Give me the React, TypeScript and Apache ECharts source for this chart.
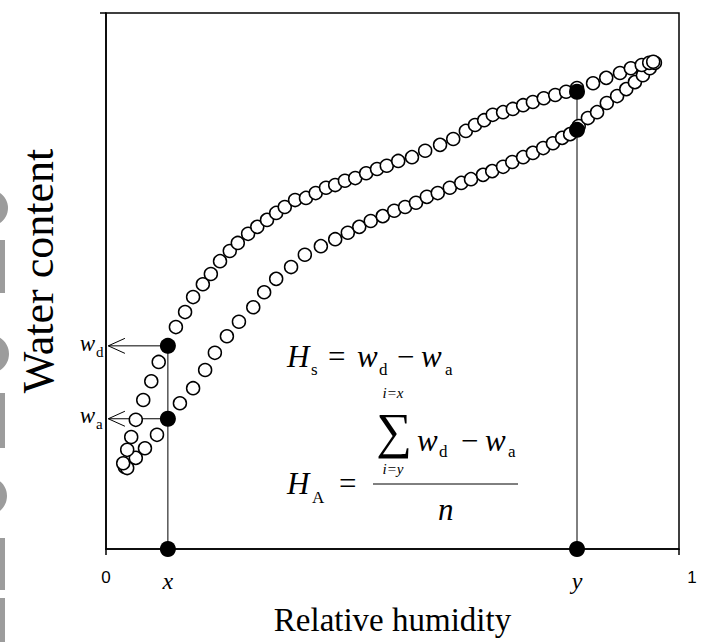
import React, { useEffect, useRef } from "react";
import * as echarts from "echarts";

// Desorption branch (upper curve), relative humidity vs water content
const desorptionRH = [0.030,0.037,0.044,0.052,0.065,0.079,0.092,0.108,0.122,0.138,0.152,0.169,0.183,0.199,0.216,0.230,0.248,0.264,0.281,0.297,0.312,0.330,0.349,0.366,0.384,0.400,0.417,0.435,0.454,0.473,0.490,0.510,0.534,0.557,0.583,0.606,0.628,0.644,0.660,0.675,0.693,0.710,0.728,0.745,0.764,0.784,0.803,0.822,0.850,0.873,0.897,0.916,0.935,0.948,0.955];
const desorptionW = [0.160,0.185,0.209,0.241,0.278,0.313,0.349,0.379,0.414,0.442,0.470,0.494,0.513,0.537,0.556,0.571,0.588,0.601,0.614,0.627,0.638,0.651,0.655,0.664,0.674,0.679,0.687,0.692,0.701,0.709,0.715,0.724,0.731,0.743,0.754,0.765,0.780,0.791,0.800,0.810,0.815,0.821,0.828,0.834,0.841,0.847,0.853,0.860,0.869,0.879,0.888,0.897,0.903,0.907,0.909];

// Adsorption branch (lower curve)
const adsorptionRH = [0.033,0.037,0.052,0.068,0.089,0.108,0.129,0.152,0.173,0.190,0.211,0.232,0.257,0.276,0.297,0.323,0.347,0.375,0.400,0.422,0.442,0.462,0.483,0.503,0.522,0.541,0.560,0.579,0.600,0.620,0.637,0.658,0.674,0.693,0.709,0.728,0.745,0.763,0.780,0.796,0.810,0.825,0.841,0.857,0.874,0.892,0.908,0.923,0.937,0.949,0.958];
const adsorptionW = [0.153,0.151,0.170,0.188,0.213,0.243,0.272,0.300,0.334,0.366,0.397,0.424,0.451,0.479,0.504,0.526,0.549,0.565,0.578,0.590,0.601,0.612,0.621,0.631,0.638,0.646,0.657,0.664,0.674,0.683,0.690,0.698,0.705,0.713,0.722,0.731,0.739,0.748,0.757,0.767,0.774,0.789,0.804,0.815,0.832,0.845,0.858,0.871,0.884,0.897,0.907];

// Marked humidities x and y, with the water contents on each branch
const markedRH = [0.108, 0.822];
const wdAtMarks = [0.379, 0.853];
const waAtMarks = [0.243, 0.782];

// Bottom tick labels
const xTickValues = [0, 0.108, 0.822, 1];
const xTickLabels = ["0", "x", "y", "1"];

// Arrow geometry (data units)
const arrowTipRH = 0.004;
const arrowHeadDx = 0.029;
const arrowHeadDy = 0.014;

const SERIF = "'Liberation Serif', 'Times New Roman', serif";
const SANS = "'Liberation Sans', Arial, sans-serif";

function txt(text: string, x: number, y: number, size: number, italic: boolean, align = "left", extra: any = {}) {
  return {
    type: "text",
    x,
    y,
    silent: true,
    ...extra,
    style: {
      text,
      fontFamily: SERIF,
      fontSize: size,
      fontStyle: italic ? "italic" : "normal",
      fill: "#000",
      align,
      verticalAlign: "middle",
    },
  };
}

export default function App() {
  const ref = useRef<HTMLDivElement>(null);

  useEffect(() => {
    if (!ref.current) return;
    const chart = echarts.init(ref.current, undefined, { renderer: "svg" });

    const openStyle = { color: "#fff", borderColor: "#000", borderWidth: 1.5, opacity: 1 };
    const thin = { color: "#000", width: 1 };

    const arrowSeries = (w: number) => [
      {
        type: "line",
        data: [[markedRH[0], w], [arrowTipRH, w]],
        symbol: "none",
        lineStyle: thin,
        silent: true,
        z: 1,
      },
      {
        type: "line",
        data: [
          [arrowTipRH + arrowHeadDx, w + arrowHeadDy],
          [arrowTipRH, w],
          [arrowTipRH + arrowHeadDx, w - arrowHeadDy],
        ],
        symbol: "none",
        lineStyle: thin,
        silent: true,
        z: 1,
      },
    ];

    const M = 31; // main formula font size
    const S = 17; // subscript size

    const option: any = {
      animation: false,
      backgroundColor: "#fff",
      grid: {
        left: 106,
        right: 22,
        top: 13,
        bottom: 93,
        show: true,
        borderColor: "#000",
        borderWidth: 1.5,
        containLabel: false,
        outerBoundsMode: "none",
      },
      xAxis: {
        type: "value",
        min: 0,
        max: 1,
        interval: 1,
        splitLine: { show: false },
        axisLine: { show: true, lineStyle: { color: "#000", width: 1.5 } },
        axisTick: {
          show: true,
          inside: false,
          length: 6,
          customValues: [0, 1],
          lineStyle: { color: "#000", width: 1.5 },
        },
        axisLabel: {
          show: true,
          customValues: xTickValues,
          margin: 20,
          formatter: (v: number) => {
            const i = xTickValues.findIndex((t) => Math.abs(t - v) < 1e-6);
            const lab = i >= 0 ? xTickLabels[i] : "";
            if (lab === "x" || lab === "y") return "{it|" + lab + "}";
            if (lab === "1") return "{one|" + lab + "}";
            return "{num|" + lab + "}";
          },
          rich: {
            num: { fontFamily: SANS, fontSize: 17, color: "#000" },
            one: { fontFamily: SANS, fontSize: 17, color: "#000", padding: [0, 0, 0, 26] },
            it: { fontFamily: SERIF, fontStyle: "italic", fontSize: 24, color: "#000" },
          },
        },
        name: "Relative humidity",
        nameLocation: "middle",
        nameGap: 54,
        nameTextStyle: { fontFamily: SERIF, fontSize: 33, color: "#000" },
      },
      yAxis: {
        type: "value",
        min: 0,
        max: 1,
        interval: 1,
        splitLine: { show: false },
        axisLine: { show: true, lineStyle: { color: "#000", width: 1.5 } },
        axisTick: {
          show: true,
          inside: false,
          length: 6,
          customValues: [1],
          lineStyle: { color: "#000", width: 1.5 },
        },
        axisLabel: { show: false },
      },
      series: [
        {
          type: "line",
          data: [[markedRH[0], 0], [markedRH[0], wdAtMarks[0]]],
          symbol: "none",
          lineStyle: thin,
          silent: true,
          z: 1,
        },
        {
          type: "line",
          data: [[markedRH[1], 0], [markedRH[1], wdAtMarks[1]]],
          symbol: "none",
          lineStyle: thin,
          silent: true,
          z: 1,
        },
        ...arrowSeries(wdAtMarks[0]),
        ...arrowSeries(waAtMarks[0]),
        {
          type: "scatter",
          data: adsorptionRH.map((x, i) => [x, adsorptionW[i]]),
          symbol: "circle",
          symbolSize: 13,
          itemStyle: openStyle,
          silent: true,
          z: 2,
        },
        {
          type: "scatter",
          data: desorptionRH.map((x, i) => [x, desorptionW[i]]),
          symbol: "circle",
          symbolSize: 13,
          itemStyle: openStyle,
          silent: true,
          z: 2,
        },
        {
          type: "scatter",
          data: [
            [markedRH[0], 0],
            [markedRH[0], wdAtMarks[0]],
            [markedRH[0], waAtMarks[0]],
            [markedRH[1], 0],
            [markedRH[1], wdAtMarks[1]],
            [markedRH[1], waAtMarks[1]],
          ],
          symbol: "circle",
          symbolSize: 16,
          itemStyle: { color: "#000", opacity: 1 },
          silent: true,
          z: 3,
        },
      ],
      graphic: [
        // cropped grey marks at the left edge
        { type: "circle", shape: { cx: -10, cy: 208, r: 18 }, style: { fill: "#9c9c9c" }, silent: true },
        { type: "rect", shape: { x: 0, y: 240, width: 5, height: 53 }, style: { fill: "#9c9c9c" }, silent: true },
        { type: "circle", shape: { cx: -10, cy: 354, r: 19 }, style: { fill: "#9c9c9c" }, silent: true },
        { type: "rect", shape: { x: 0, y: 393, width: 5, height: 55 }, style: { fill: "#9c9c9c" }, silent: true },
        { type: "circle", shape: { cx: -12, cy: 496, r: 19 }, style: { fill: "#9c9c9c" }, silent: true },
        { type: "rect", shape: { x: 0, y: 538, width: 5, height: 52 }, style: { fill: "#9c9c9c" }, silent: true },
        { type: "rect", shape: { x: 0, y: 598, width: 5, height: 44 }, style: { fill: "#9c9c9c" }, silent: true },
        // y axis title
        txt("Water content", 38, 271, 44, false, "center", { rotation: Math.PI / 2 }),
        // w_d, w_a labels
        txt("w", 95, 343, 23, true, "right"),
        txt("d", 96, 352, 15, false),
        txt("w", 95, 415, 23, true, "right"),
        txt("a", 96, 424, 15, false),
        // H_s = w_d - w_a
        txt("H", 287, 356, M, true),
        txt("s", 311, 369, S, false),
        txt("=", 328, 356, M, false),
        txt("w", 357, 356, M, true),
        txt("d", 379, 369, S, false),
        txt("\u2212", 397, 356, M, false),
        txt("w", 421, 356, M, true),
        txt("a", 445, 369, S, false),
        // H_A = sum / n
        txt("i=x", 393, 393, 15, true, "center"),
        txt("\u2211", 394, 431, 50, false, "center"),
        txt("i=y", 393, 469, 15, true, "center"),
        txt("w", 417, 440, M, true),
        txt("d", 439, 451, S, false),
        txt("\u2212", 461, 440, M, false),
        txt("w", 485, 440, M, true),
        txt("a", 508, 451, S, false),
        {
          type: "line",
          shape: { x1: 373, y1: 484, x2: 518, y2: 484 },
          style: { stroke: "#000", lineWidth: 1 },
          silent: true,
        },
        txt("n", 438, 509, M, true),
        txt("H", 287, 483, M, true),
        txt("A", 312, 497, S, false),
        txt("=", 339, 483, M, false),
      ],
    };

    chart.setOption(option);
    return () => chart.dispose();
  }, []);

  return (
    <div
      ref={ref}
      style={{ position: "absolute", left: 0, top: 0, width: 701, height: 642, background: "#fff" }}
    />
  );
}
